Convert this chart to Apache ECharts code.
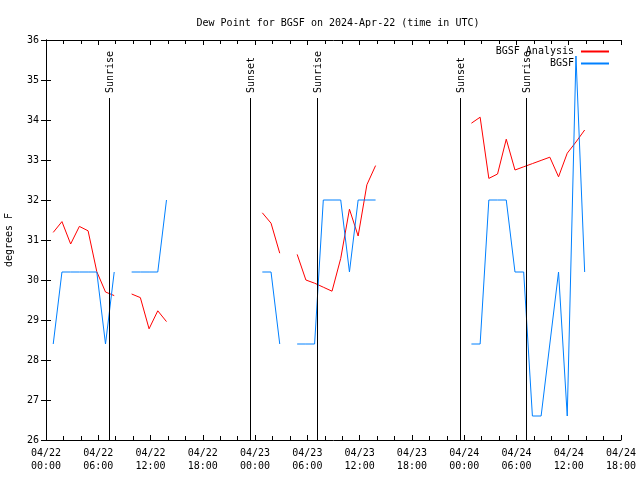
<!DOCTYPE html>
<html>
<head>
<meta charset="utf-8">
<script src="https://cdn.jsdelivr.net/npm/echarts@6/dist/echarts.min.js"></script>
<style>html,body{margin:0;padding:0;background:#fff}#c{width:640px;height:480px}</style>
</head>
<body>
<div id="c"></div>
<script>
// observation times, hours since 2024-04-22 00:00 UTC
var obsHours = [0.83,1.83,2.83,3.83,4.83,5.83,6.83,7.83,8.83,9.83,10.83,11.83,12.83,13.83,14.83,15.83,16.83,17.83,18.83,19.83,20.83,21.83,22.83,23.83,
  24.83,25.83,26.83,27.83,28.83,29.83,30.83,31.83,32.83,33.83,34.83,35.83,36.83,37.83,38.83,39.83,40.83,41.83,42.83,43.83,44.83,45.83,46.83,47.83,
  48.83,49.83,50.83,51.83,52.83,53.83,54.83,55.83,56.83,57.83,58.83,59.83,60.83,61.83];
var analysisF = [31.19,31.46,30.90,31.34,31.23,30.21,29.70,29.61,null,29.65,29.56,28.78,29.23,28.96,
  null,null,null,null,null,null,null,null,null,null,
  31.68,31.42,30.67,null,30.64,30.00,29.92,29.82,29.72,30.54,31.77,31.10,32.38,32.86,
  null,null,null,null,null,null,null,null,null,null,
  33.92,34.07,32.54,32.65,33.52,32.75,32.83,32.91,32.99,33.07,32.58,33.17,33.45,33.75];
var observedF = [28.4,30.2,30.2,30.2,30.2,30.2,28.4,30.2,null,30.2,30.2,30.2,30.2,32.0,
  null,null,null,null,null,null,null,null,null,null,
  30.2,30.2,28.4,null,28.4,28.4,28.4,32.0,32.0,32.0,30.2,32.0,32.0,32.0,
  null,null,null,null,null,null,null,null,null,null,
  28.4,28.4,32.0,32.0,32.0,30.2,30.2,26.6,26.6,28.4,30.2,26.6,35.6,30.2];
var sunHours = [7.25, 23.42, 31.16, 47.5, 55.07];
var sunNames = ['Sunrise','Sunset','Sunrise','Sunset','Sunrise'];
var xTickLabels = ['04/22\n00:00','04/22\n06:00','04/22\n12:00','04/22\n18:00','04/23\n00:00','04/23\n06:00',
  '04/23\n12:00','04/23\n18:00','04/24\n00:00','04/24\n06:00','04/24\n12:00','04/24\n18:00'];
var yMin = 26, yMax = 36, lineTopF = 34.55;

var FONT = '"DejaVu Sans Mono","Liberation Mono",monospace';
var RED = '#ff0000', BLUE = '#0080ff';
function pairs(vals){ return obsHours.map(function(h,i){ return [h, vals[i]==null ? '-' : vals[i]]; }); }

var chart = echarts.init(document.getElementById('c'));
var xCommon = {type:'value', min:0, max:66, interval:6,
  axisLine:{lineStyle:{color:'#000',width:1}},
  splitLine:{show:false},
  axisTick:{inside:true, length:5, lineStyle:{color:'#000'}},
  minorTick:{show:true, splitNumber:3, length:4, lineStyle:{color:'#000'}}};
var yCommon = {type:'value', min:yMin, max:yMax, interval:1,
  axisLine:{show:true, lineStyle:{color:'#000',width:1}},
  splitLine:{show:false},
  axisTick:{inside:true, length:5, lineStyle:{color:'#000'}}};

chart.setOption({
  animation:false,
  backgroundColor:'#fff',
  title:{text:'Dew Point for BGSF on 2024-Apr-22 (time in UTC)', left:333, top:13, textAlign:'center',
    textStyle:{fontFamily:FONT, fontSize:10, fontWeight:'normal', color:'#000'}},
  legend:{orient:'vertical', right:31, top:46, align:'right', itemWidth:28, itemHeight:2, itemGap:1,
    padding:0, icon:'rect', itemStyle:{borderWidth:0},
    data:[{name:'BGSF Analysis', itemStyle:{color:RED, borderWidth:0}},
          {name:'BGSF', itemStyle:{color:BLUE, borderWidth:0}}],
    textStyle:{fontFamily:FONT, fontSize:10, color:'#000', lineHeight:11, padding:[0,2,0,0]}},
  grid:{left:46, right:19, top:40, bottom:40, outerBoundsMode:'none', containLabel:false},
  xAxis:[
    Object.assign({}, xCommon, {position:'bottom',
      axisLabel:{color:'#000', fontFamily:FONT, fontSize:10, lineHeight:13, margin:7,
        showMinLabel:true, showMaxLabel:true,
        formatter:function(v){ return xTickLabels[Math.round(v/6)]; }}}),
    Object.assign({}, xCommon, {position:'top', axisLabel:{show:false}})
  ],
  yAxis:[
    Object.assign({}, yCommon, {position:'left', name:'degrees F', nameLocation:'middle', nameGap:32,
      nameTextStyle:{fontFamily:FONT, fontSize:10, color:'#000'},
      axisLabel:{color:'#000', fontFamily:FONT, fontSize:10, margin:7}}),
    Object.assign({}, yCommon, {position:'right', axisLabel:{show:false}})
  ],
  series:[
    {name:'BGSF Analysis', type:'line', data:pairs(analysisF), showSymbol:false, symbol:'none',
      connectNulls:false, lineStyle:{color:RED, width:1}, itemStyle:{color:RED}, z:2},
    {name:'BGSF', type:'line', data:pairs(observedF), showSymbol:false, symbol:'none',
      connectNulls:false, lineStyle:{color:BLUE, width:1}, itemStyle:{color:BLUE}, z:3},
    {name:'sun', type:'custom', z:5, silent:true,
      data:sunHours.map(function(h,i){ return [h, i]; }),
      renderItem:function(params, api){
        var h = api.value(0), idx = api.value(1);
        var p0 = api.coord([h, yMin]), p1 = api.coord([h, lineTopF]);
        var x = Math.round(p0[0]) + 0.5;
        return {type:'group', children:[
          {type:'line', shape:{x1:x, y1:p0[1], x2:x, y2:p1[1]}, style:{stroke:'#000', lineWidth:1}},
          {type:'text', x:x+1, y:p1[1]-5, rotation:Math.PI/2,
            style:{text:sunNames[idx], fill:'#000', font:'10px '+FONT, align:'left', verticalAlign:'middle',
              textAlign:'left', textVerticalAlign:'middle'}}
        ]};
      }}
  ]
});
</script>
</body>
</html>
